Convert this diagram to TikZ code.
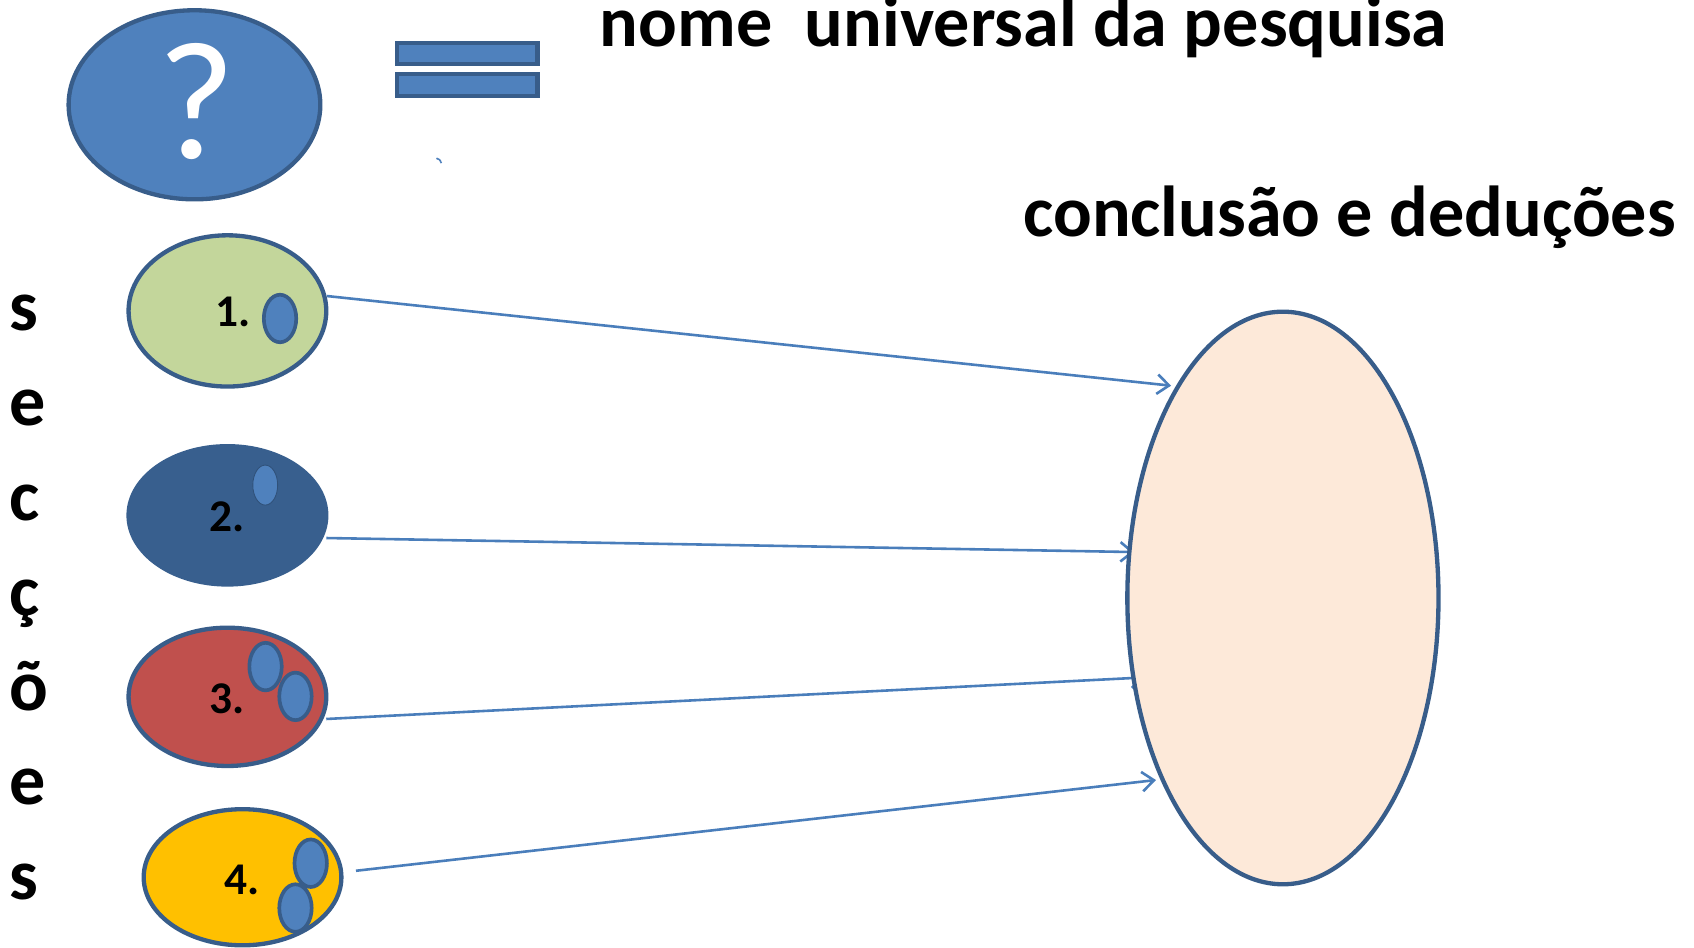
\documentclass[tikz,border=0pt]{standalone}
\usepackage{fontspec}
\setmainfont{Carlito}
\usetikzlibrary{shapes.geometric,arrows.meta}
\definecolor{outl}{HTML}{385D8A}
\definecolor{blueF}{HTML}{4F81BD}
\definecolor{greenF}{HTML}{C3D69B}
\definecolor{darkF}{HTML}{385F8E}
\definecolor{redF}{HTML}{C0504D}
\definecolor{yelF}{HTML}{FFC000}
\definecolor{peachF}{HTML}{FDE9D9}
\definecolor{arrowC}{HTML}{4A7EBB}
\tikzset{
  oval/.style={ellipse, draw=outl, line width=4pt, inner sep=0pt},
  dotoval/.style={ellipse, draw=outl, fill=blueF, line width=3.4pt, inner sep=0pt, minimum width=30pt, minimum height=44pt},
  numlbl/.style={inner sep=0pt, anchor=base, font=\fontsize{42}{46}\selectfont\bfseries},
  bigtxt/.style={inner sep=0pt, anchor=base west, font=\fontsize{66.8}{70}\selectfont\bfseries},
  vletter/.style={inner sep=0pt, anchor=base west, font=\fontsize{66.8}{70}\selectfont\bfseries},
  eqbar/.style={draw=outl, fill=blueF, line width=4pt},
  conn/.style={draw=arrowC, line width=2.4pt, -{Straight Barb[length=11pt,width=18pt,line width=2.4pt]}},
}
\begin{document}
\begin{tikzpicture}[x=1pt,y=-1pt]
\useasboundingbox (0,0) rectangle (1568,877);
% question ellipse
\node[oval, fill=blueF, minimum width=233pt, minimum height=175pt] (q) at (180,97) {};
\node[inner sep=0pt, anchor=base, text=white, font=\fontsize{156}{160}\selectfont] (qm) at (182,146.5) {?};
% equals sign
\draw[eqbar] (367.5,39.5) rectangle (497.5,59.5);
\draw[eqbar] (367.5,68.5) rectangle (497.5,89);
% tiny mark
\draw[draw=blueF, line width=1.5pt] (404,146.5) .. controls (407,147.5) .. (408.5,151);
% titles
\node[bigtxt] (title) at (555,43.5) {nome\ \ universal da pesquisa};
\node[bigtxt] (concl) at (947,218.5) {conclusão e deduções};
% vertical word
\node[vletter] (v1) at (9,306) {s};
\node[vletter] (v2) at (9,394) {e};
\node[vletter] (v3) at (9,482) {c};
\node[vletter] (v4) at (9,570) {ç};
\node[vletter] (v5) at (9,658) {õ};
\node[vletter] (v6) at (9,745) {e};
\node[vletter] (v7) at (9,833) {s};
% connectors (under the big ellipse)
\coordinate (s1) at (302.5,274);
\coordinate (s2) at (302,498);
\coordinate (s3) at (302,665.5);
\coordinate (s4) at (329.5,806);
\coordinate (t1) at (1084,357);
\coordinate (t2) at (1050,511);
\coordinate (t3) at (1060,627);
\coordinate (t4) at (1070,722);
\draw[conn] (s1) -- (t1);
\draw[conn] (s2) -- (t2);
\draw[conn] (s3) -- (t3);
\draw[conn] (s4) -- (t4);
% big ellipse
\node[oval, fill=peachF, minimum width=288pt, minimum height=530pt] (big) at (1187.5,553.5) {};
% section ellipses
\node[oval, fill=greenF, minimum width=183pt, minimum height=140pt] (e1) at (210.5,287.8) {};
\node[oval, draw=darkF, fill=darkF, minimum width=183pt, minimum height=128pt] (e2) at (210.5,477) {};
\node[oval, fill=redF, minimum width=183pt, minimum height=128pt] (e3) at (210.5,645) {};
\node[oval, fill=yelF, minimum width=183pt, minimum height=126pt] (e4) at (224.5,812) {};
% small ovals
\node[dotoval] (d1) at (259.2,294.8) {};
\node[dotoval, draw=darkF!85!black, line width=0.8pt, minimum width=23pt, minimum height=37pt] (d2) at (245.5,449) {};
\node[dotoval] (d3a) at (245.8,617) {};
\node[dotoval] (d3b) at (273.5,644.6) {};
\node[dotoval] (d4a) at (287.6,799) {};
\node[dotoval] (d4b) at (273.5,840.5) {};
% numbers
\node[numlbl] (n1) at (216,302.5) {1.};
\node[numlbl] (n2) at (210.5,492.4) {2.};
\node[numlbl] (n3) at (210.5,660) {3.};
\node[numlbl] (n4) at (224,827.5) {4.};
\end{tikzpicture}
\end{document}
